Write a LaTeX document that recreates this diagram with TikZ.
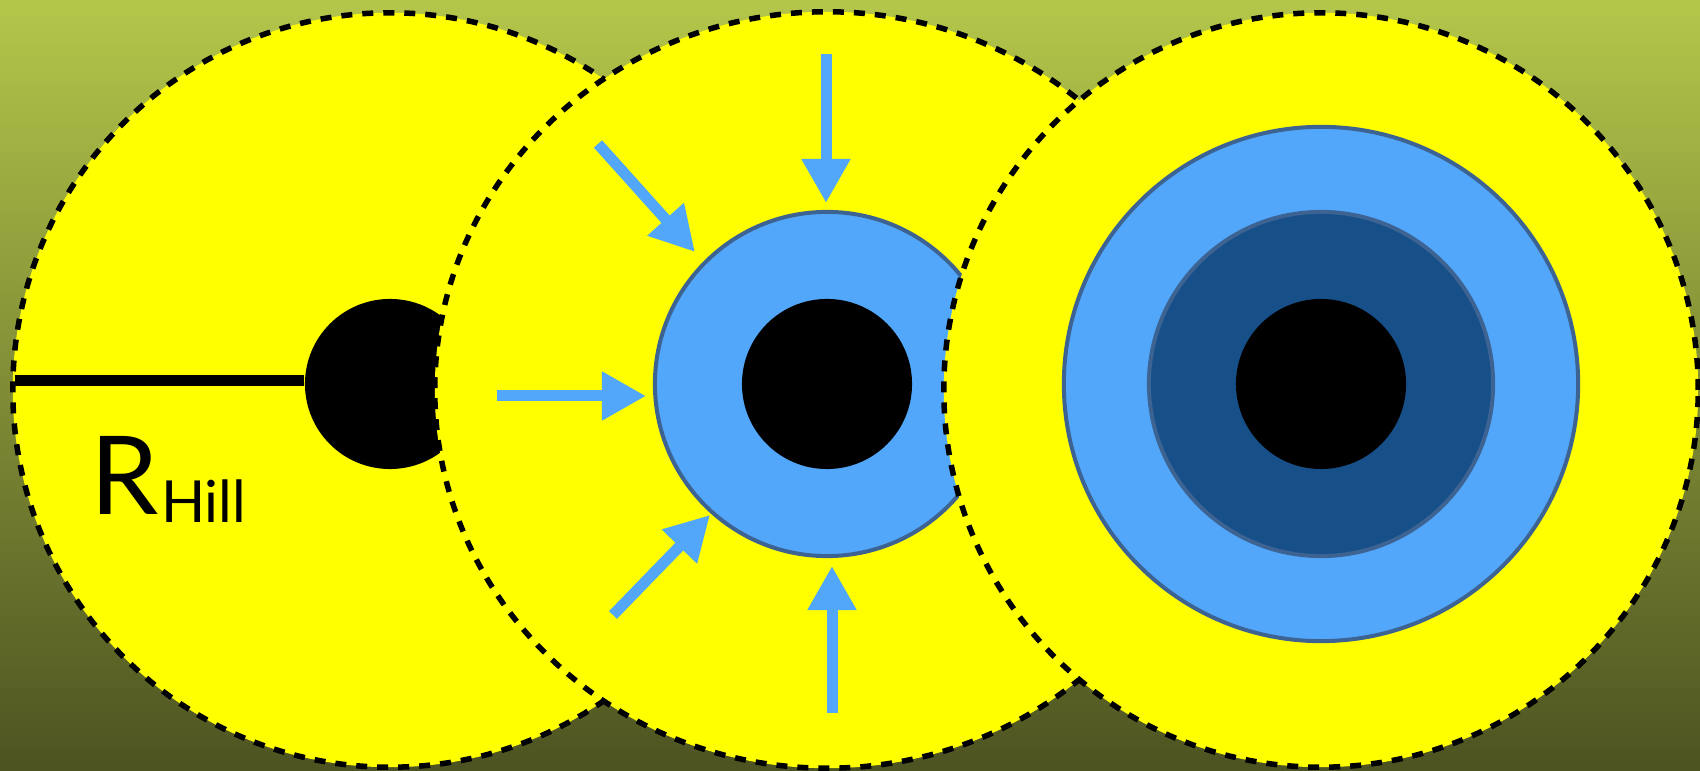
\documentclass[tikz,border=0pt]{standalone}
\usepackage{fontspec}
\newfontfamily\hillfont{Lato}
\usetikzlibrary{arrows.meta}
\definecolor{skytop}{RGB}{180,198,74}
\definecolor{skybot}{RGB}{77,83,33}
\definecolor{hillyellow}{RGB}{255,255,0}
\definecolor{gasblue}{RGB}{82,167,250}
\definecolor{deepblue}{RGB}{23,79,137}
\definecolor{rimblue}{RGB}{61,99,147}

\begin{document}
\begin{tikzpicture}[x=0.01cm,y=-0.01cm,
  hill/.style={fill=hillyellow,draw=black,line width=0.55mm,dash pattern=on 1.1mm off 1mm},
  env/.style={circle,fill=gasblue,draw=rimblue,line width=0.4mm,inner sep=0pt},
  deep/.style={circle,fill=deepblue,draw=rimblue,line width=0.4mm,inner sep=0pt},
  core/.style={circle,fill=black,inner sep=0pt,minimum size=1.7cm},
  inflow/.style={-{Triangle[length=4.4mm,width=4.6mm]},line width=1.1mm,color=gasblue},
  lbl/.style={font=\hillfont,text=black,inner sep=0pt}]
  \useasboundingbox (0,0) rectangle (1700,771);
  \shade[top color=skytop,bottom color=skybot] (0,0) rectangle (1700,771);

  % three Hill spheres
  \coordinate (c1) at (390,390);
  \coordinate (c2) at (827,390);
  \coordinate (c3) at (1321,390);

  % bare core
  \draw[hill] (c1) circle[radius=3.77cm];
  \node[core] (core1) at (390,384) {};
  \coordinate (rim1) at (15,381);
  \draw[line width=1.1mm] (rim1) -- (rim1 -| core1.west);
  \node[lbl,anchor=base west] (rhill) at (90,515)
    {\fontsize{31}{31}\selectfont R\hspace{0.02cm}\raisebox{-0.08cm}{\fontsize{16.5}{16.5}\selectfont Hill}};

  % accreting envelope
  \draw[hill] (c2) ellipse[x radius=3.92cm,y radius=3.78cm];
  \node[env,minimum size=3.44cm] (env2) at (827,384) {};
  \node[core] (core2) at (827,384) {};
  \coordinate (in1) at (826,54);   \coordinate (to1) at (826,203);
  \coordinate (in2) at (598,144);  \coordinate (to2) at (695,252);
  \coordinate (in3) at (497,396);  \coordinate (to3) at (646,396);
  \coordinate (in4) at (613,615);  \coordinate (to4) at (710,515);
  \coordinate (in5) at (832,713);  \coordinate (to5) at (832,566);
  \foreach \i in {1,...,5}
    \draw[inflow] (in\i) -- (to\i);

  % collapsed envelope
  \draw[hill] (c3) circle[radius=3.77cm];
  \node[env,minimum size=5.14cm] (env3) at (1321,384) {};
  \node[deep,minimum size=3.44cm] (deep3) at (1321,384) {};
  \node[core] (core3) at (1321,384) {};
\end{tikzpicture}
\end{document}
